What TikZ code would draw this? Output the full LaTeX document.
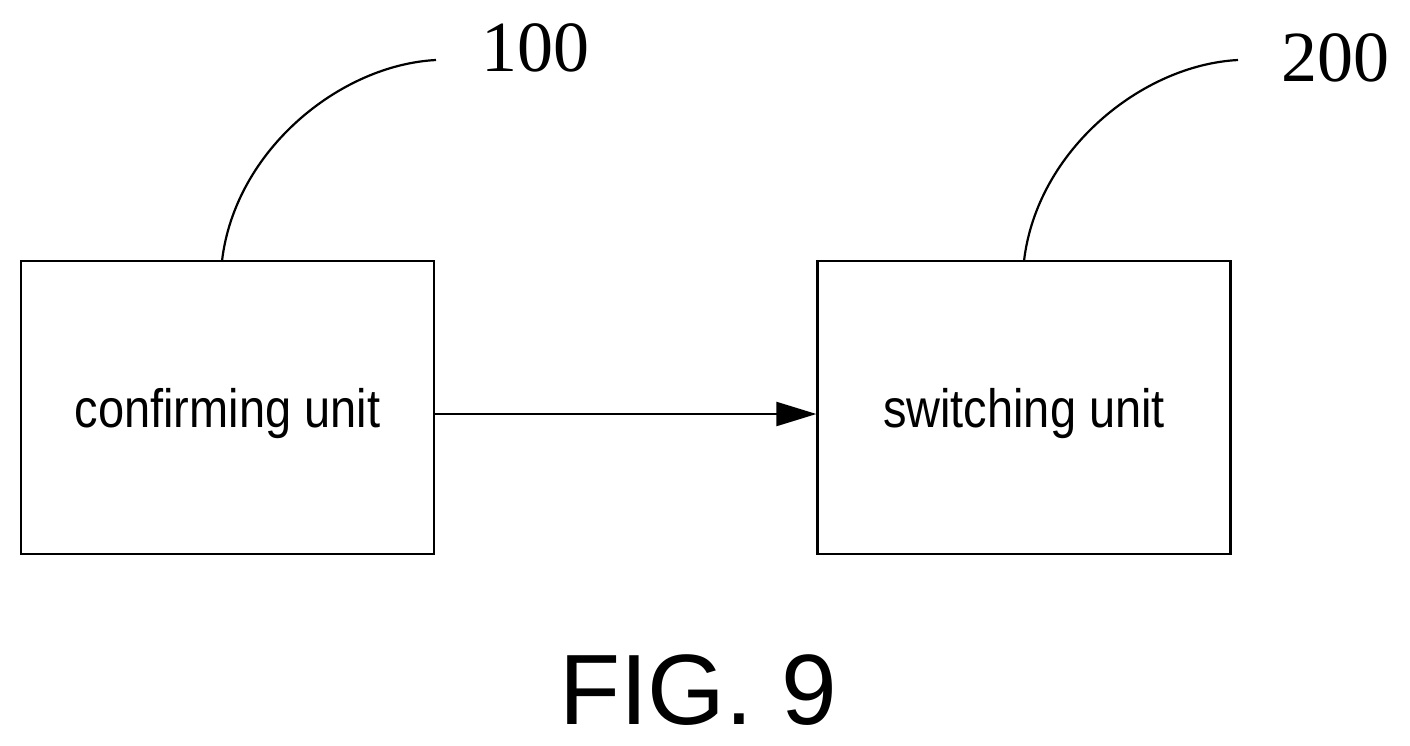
\documentclass[tikz,border=0pt]{standalone}
\usepackage{fontspec}
\setmainfont{Liberation Serif}
\setsansfont{Liberation Sans}
\usetikzlibrary{arrows.meta}
\begin{document}
\begin{tikzpicture}[x=1pt,y=-1pt,
  box/.style={draw,line width=2.2pt,minimum width=413pt,minimum height=293pt,inner sep=0pt},
  lbl/.style={font=\sffamily\fontsize{54}{60}\selectfont,xscale=0.87},
  num/.style={font=\rmfamily\fontsize{72}{80}\selectfont,xscale=1.0},
  lead/.style={line width=2.2pt}]
\useasboundingbox (0,0) rectangle (1410,745);
\node[box] (a) at (227.5,407.5) {};
\node[lbl] (at) at (227.5,414) {confirming unit};
\node[box] (b) at (1024,407.5) {};
\node[lbl] (bt) at (1024,414) {switching unit};
\draw[lead,-{Triangle[length=40pt,width=24pt]}] (a.east |- 0,414) -- (b.west |- 0,414);
\coordinate (a1) at (222,261);
\coordinate (a2) at (436,60);
\coordinate (b1) at (1024,261);
\coordinate (b2) at (1238,60);
\draw[lead] (a1) .. controls (235,150) and (340,65) .. (a2);
\draw[lead] (b1) .. controls (1037,150) and (1142,65) .. (b2);
\node[num] (n1) at (535,48) {100};
\node[num] (n2) at (1335,58) {200};
\node[font=\sffamily\fontsize{100}{110}\selectfont] (f) at (698,690) {FIG. 9};
\end{tikzpicture}
\end{document}
